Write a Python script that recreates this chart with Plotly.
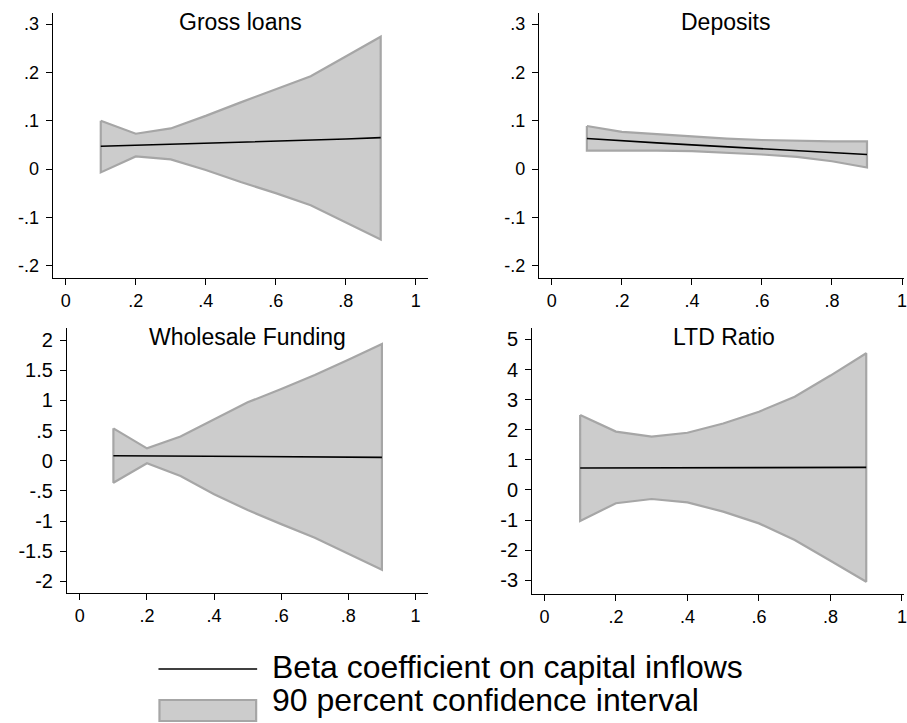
import plotly.graph_objects as go

W, H = 907, 723

x_vals = [0.1, 0.2, 0.3, 0.4, 0.5, 0.6, 0.7, 0.8, 0.9]

titles = ["Gross loans", "Deposits", "Wholesale Funding", "LTD Ratio"]

loans_beta = [0.047, 0.049, 0.051, 0.053, 0.055, 0.057, 0.059, 0.062, 0.065]
loans_upper = [0.100, 0.073, 0.084, 0.110, 0.138, 0.165, 0.192, 0.233, 0.274]
loans_lower = [-0.007, 0.026, 0.020, -0.002, -0.027, -0.050, -0.075, -0.110, -0.146]

dep_beta = [0.063, 0.058, 0.054, 0.050, 0.046, 0.042, 0.038, 0.034, 0.030]
dep_upper = [0.089, 0.077, 0.072, 0.067, 0.063, 0.060, 0.058, 0.057, 0.057]
dep_lower = [0.038, 0.038, 0.038, 0.037, 0.034, 0.030, 0.025, 0.016, 0.003]

wf_beta = [0.083, 0.080, 0.077, 0.073, 0.070, 0.067, 0.063, 0.060, 0.056]
wf_upper = [0.537, 0.205, 0.400, 0.685, 0.968, 1.190, 1.420, 1.675, 1.935]
wf_lower = [-0.365, -0.043, -0.254, -0.555, -0.818, -1.052, -1.277, -1.550, -1.810]

ltd_beta = [0.73, 0.73, 0.735, 0.735, 0.74, 0.74, 0.745, 0.745, 0.75]
ltd_upper = [2.49, 1.94, 1.77, 1.90, 2.21, 2.60, 3.10, 3.80, 4.54]
ltd_lower = [-1.03, -0.44, -0.30, -0.41, -0.72, -1.11, -1.66, -2.35, -3.05]

x_ticks = [0, 0.2, 0.4, 0.6, 0.8, 1.0]
x_ticklabels = ["0", ".2", ".4", ".6", ".8", "1"]

top_yticks = [-0.2, -0.1, 0, 0.1, 0.2, 0.3]
top_yticklabels = ["-.2", "-.1", "0", ".1", ".2", ".3"]
wf_yticks = [-2, -1.5, -1, -0.5, 0, 0.5, 1, 1.5, 2]
wf_yticklabels = ["-2", "-1.5", "-1", "-.5", "0", ".5", "1", "1.5", "2"]
ltd_yticks = [-3, -2, -1, 0, 1, 2, 3, 4, 5]
ltd_yticklabels = ["-3", "-2", "-1", "0", "1", "2", "3", "4", "5"]

legend_labels = ["Beta coefficient on capital inflows", "90 percent confidence interval"]

FONT = "Liberation Sans, Arial, sans-serif"
FILL = "#cccccc"
EDGE = "#a6a6a6"


def px_x(p):
    return p / W


def px_y(p):
    return 1 - p / H


panels = [
    dict(beta=loans_beta, up=loans_upper, lo=loans_lower, px=(53, 429), py=(13, 278),
         xr=[-0.037, 1.034], yr=[-0.2257, 0.323], yt=top_yticks, yl=top_yticklabels, yfs=18,
         title_x=241, title_y=22),
    dict(beta=dep_beta, up=dep_upper, lo=dep_lower, px=(540.7, 907), py=(13, 278),
         xr=[-0.037, 1.0057], yr=[-0.2257, 0.323], yt=top_yticks, yl=top_yticklabels, yfs=18,
         title_x=728, title_y=22),
    dict(beta=wf_beta, up=wf_upper, lo=wf_lower, px=(67.3, 429), py=(328.3, 593.3),
         xr=[-0.038, 1.036], yr=[-2.199, 2.196], yt=wf_yticks, yl=wf_yticklabels, yfs=20,
         title_x=248, title_y=337),
    dict(beta=ltd_beta, up=ltd_upper, lo=ltd_lower, px=(534, 907), py=(328.3, 594),
         xr=[-0.034, 1.0056], yr=[-3.455, 5.37], yt=ltd_yticks, yl=ltd_yticklabels, yfs=20,
         title_x=726, title_y=337),
]

fig = go.Figure()
layout = dict(
    width=W, height=H,
    margin=dict(l=0, r=0, t=0, b=0),
    paper_bgcolor="white", plot_bgcolor="white",
    showlegend=False,
    font=dict(family=FONT, color="black"),
)
annotations = []

for i, p in enumerate(panels):
    n = "" if i == 0 else str(i + 1)
    xa, ya = "x" + n, "y" + n
    poly_x = x_vals + x_vals[::-1] + [x_vals[0]]
    poly_y = p["up"] + p["lo"][::-1] + [p["up"][0]]
    fig.add_trace(go.Scatter(
        x=poly_x, y=poly_y, mode="lines", fill="toself", fillcolor=FILL,
        line=dict(color=EDGE, width=2.2), xaxis=xa, yaxis=ya, hoverinfo="skip"))
    fig.add_trace(go.Scatter(
        x=x_vals, y=p["beta"], mode="lines", line=dict(color="black", width=1.6),
        xaxis=xa, yaxis=ya))
    layout["xaxis" + n] = dict(
        domain=[px_x(p["px"][0]), px_x(p["px"][1])], range=p["xr"], anchor=ya,
        showgrid=False, zeroline=False, showline=True, linecolor="black", linewidth=1.3,
        ticks="outside", ticklen=6, tickwidth=1.2, tickcolor="black",
        tickvals=x_ticks, ticktext=x_ticklabels, tickfont=dict(size=18, family=FONT),
        ticklabeloverflow="allow",
    )
    layout["yaxis" + n] = dict(
        domain=[px_y(p["py"][1]), px_y(p["py"][0])], range=p["yr"], anchor=xa,
        showgrid=False, zeroline=False, showline=True, linecolor="black", linewidth=1.3,
        ticks="outside", ticklen=6, tickwidth=1.2, tickcolor="black",
        tickvals=p["yt"], ticktext=p["yl"], tickfont=dict(size=p["yfs"], family=FONT),
        ticklabelstandoff=3,
    )
    annotations.append(dict(
        text=titles[i], x=px_x(p["title_x"]), y=px_y(p["title_y"]), xref="paper", yref="paper",
        xanchor="center", yanchor="middle", showarrow=False,
        font=dict(size=23, family=FONT, color="black")))

shapes = [
    dict(type="line", xref="paper", yref="paper", x0=px_x(159), x1=px_x(258),
         y0=px_y(669), y1=px_y(669), line=dict(color="black", width=1.6)),
    dict(type="rect", xref="paper", yref="paper", x0=px_x(160), x1=px_x(257),
         y0=px_y(721), y1=px_y(700), fillcolor=FILL, line=dict(color=EDGE, width=2.2)),
]
annotations.append(dict(text=legend_labels[0], x=px_x(271), y=px_y(667), xref="paper", yref="paper",
                        xanchor="left", yanchor="middle", showarrow=False,
                        font=dict(size=32, family=FONT, color="black")))
annotations.append(dict(text=legend_labels[1], x=px_x(271), y=px_y(700), xref="paper", yref="paper",
                        xanchor="left", yanchor="middle", showarrow=False,
                        font=dict(size=32, family=FONT, color="black")))

layout["annotations"] = annotations
layout["shapes"] = shapes
fig.update_layout(**layout)
fig.write_html("out.html", config={"displayModeBar": False},
               post_script="document.body.style.margin='0';document.body.style.overflow='hidden';")
